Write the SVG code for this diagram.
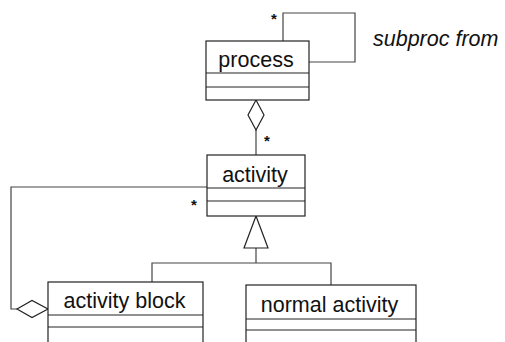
<svg xmlns="http://www.w3.org/2000/svg" width="505" height="342" viewBox="0 0 505 342">
<style>
.box{fill:#fff;stroke:#222;stroke-width:1.2}
.div{stroke:#222;stroke-width:1.2}
.lbl{font-family:"Liberation Sans",Arial,sans-serif;font-size:21.5px;fill:#111;text-anchor:middle}
.conn{fill:none;stroke:#444;stroke-width:1.2}
.head{fill:#fff;stroke:#222;stroke-width:1.2}
.mult{font-family:"Liberation Sans",Arial,sans-serif;font-size:15px;font-weight:bold;fill:#111}
.role{font-family:"Liberation Sans",Arial,sans-serif;font-size:21.5px;font-style:italic;fill:#111}
</style>
<rect width="505" height="342" fill="#fff"/>
<g id="connectors">
<polyline class="conn" points="283,41 283,13 355,13 355,62 309,62"/>
<text class="mult" x="271" y="24">*</text>
<text class="role" x="373" y="46">subproc from</text>
<line class="conn" x1="256" y1="130" x2="256" y2="155"/>
<polygon class="head" points="256,100 264,115 256,130 248,115"/>
<text class="mult" x="264" y="146">*</text>
<polyline class="conn" points="207,187 11,187 11,309 17,309"/>
<polygon class="head" points="17,309 32,300.5 48,309 32,317.5"/>
<text class="mult" x="191" y="210">*</text>
<polyline class="conn" points="256,248 256,263"/>
<polyline class="conn" points="152,282 152,263 331,263 331,285"/>
<polygon class="head" points="256,216 268,248 244,248"/>
</g>
<g id="process">
<rect class="box" x="206" y="41" width="103" height="59"/>
<line class="div" x1="206" y1="73" x2="309" y2="73"/>
<line class="div" x1="206" y1="87" x2="309" y2="87"/>
<text class="lbl" x="256" y="67">process</text>
</g>
<g id="activity">
<rect class="box" x="207" y="155" width="98" height="61"/>
<line class="div" x1="207" y1="188" x2="305" y2="188"/>
<line class="div" x1="207" y1="201" x2="305" y2="201"/>
<text class="lbl" x="255" y="182">activity</text>
</g>
<g id="activity-block">
<rect class="box" x="48" y="282" width="155" height="70"/>
<line class="div" x1="48" y1="315" x2="203" y2="315"/>
<line class="div" x1="48" y1="327" x2="203" y2="327"/>
<text class="lbl" x="124.5" y="308">activity block</text>
</g>
<g id="normal-activity">
<rect class="box" x="246" y="285" width="170" height="70"/>
<line class="div" x1="246" y1="319" x2="416" y2="319"/>
<line class="div" x1="246" y1="330" x2="416" y2="330"/>
<text class="lbl" x="329.5" y="312">normal activity</text>
</g>
</svg>
